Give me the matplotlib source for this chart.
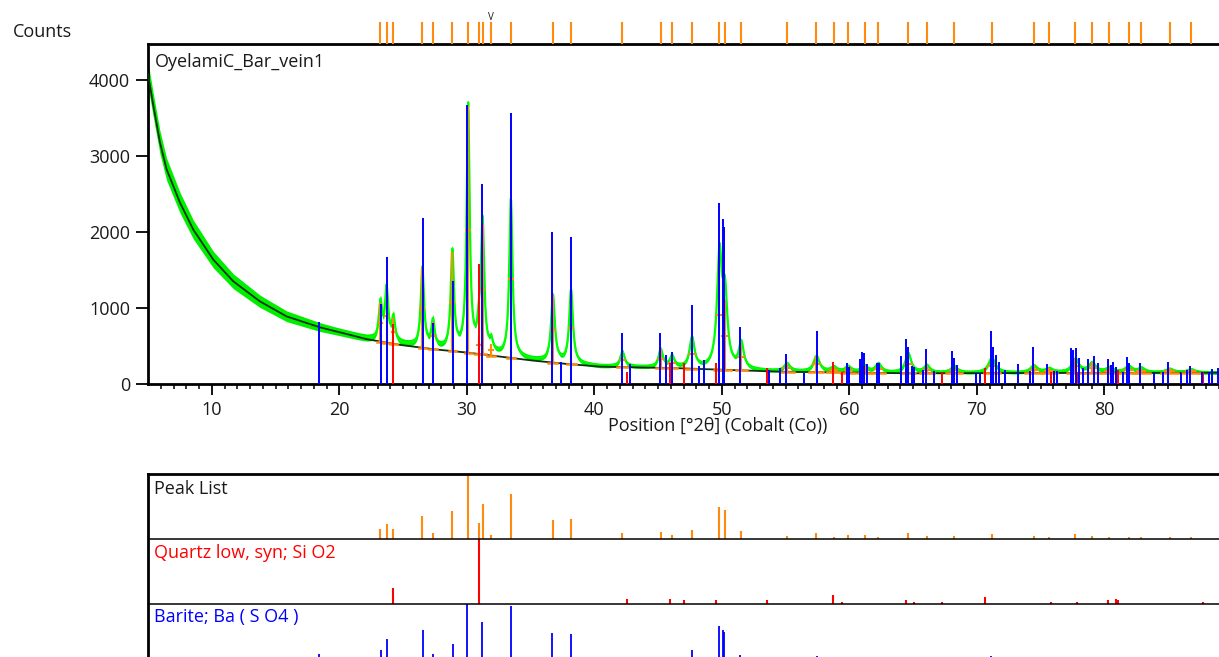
#!/usr/bin/env python3
"""XRD scan OyelamiC_Bar_vein1 with peak list and reference patterns."""
import numpy as np
import matplotlib
matplotlib.use("Agg")
import matplotlib.pyplot as plt

W, H = 1219, 657
plt.rcParams["font.family"] = ["Open Sans", "DejaVu Sans"]
TXT = "#1a1a1a"
ORANGE = "#ff8a10"
GREEN = "#00ee00"

# background (black line): position [deg 2theta], counts
BG_POS = [5.0, 5.2, 5.42, 5.94, 6.46, 7.51, 8.55, 10.12, 11.69, 13.78, 15.88,
          18.5, 20.84, 22.15, 24.76, 27.38, 30.0, 32.6, 35.2, 37.84, 40.45,
          46.7, 54.6, 64.8, 75.0, 95.0]
BG_CNT = [4080, 3880, 3661, 3177, 2825, 2385, 2033, 1637, 1351, 1087, 889,
          745, 647, 590, 515, 458, 414, 361, 308, 264, 229,
          207, 162, 141, 145, 150]

# rough half-width of the noisy measured band
NOISE_POS = [5, 7, 10, 14, 20, 30, 45, 95]
NOISE_CNT = [160, 140, 110, 80, 50, 35, 28, 25]

# peak list: position, height above background, FWHM, relative intensity (%)
PEAK_POS = [23.23, 23.71, 24.25, 26.52, 27.35, 28.87, 30.11, 30.95, 31.24, 31.92,
            33.46, 36.76, 38.18, 42.21, 45.21, 46.10, 47.67, 49.82, 50.25, 51.53,
            55.11, 57.43, 58.78, 59.91, 61.20, 62.28, 64.63, 66.08, 68.22, 71.18,
            74.47, 75.68, 77.73, 79.05, 80.40, 81.91, 82.91, 85.12, 86.79]
PEAK_HGT = [490, 690, 320, 1040, 350, 1290, 3230, 230, 1700, 140,
            2070, 870, 965, 195, 230, 145, 395, 1450, 900, 340,
            100, 205, 60, 70, 80, 115, 255, 95, 85, 195,
            90, 50, 175, 125, 60, 80, 55, 45, 40]
PEAK_FWHM = [0.3, 0.3, 0.3, 0.3, 0.3, 0.3, 0.28, 0.3, 0.3, 0.3,
             0.3, 0.35, 0.35, 0.4, 0.4, 0.4, 0.45, 0.45, 0.45, 0.45,
             0.55, 0.55, 0.55, 0.55, 0.55, 0.55, 0.55, 0.55, 0.6, 0.65,
             0.65, 0.65, 0.65, 0.65, 0.65, 0.65, 0.65, 0.7, 0.7]
PEAK_REL = [16, 24, 16, 35, 9, 44, 100, 25, 55, 7,
            70, 30, 31, 10, 11, 7, 14, 50, 45, 13,
            5, 10, 4, 6, 7, 4, 9, 5, 5, 8,
            5, 4, 8, 5, 4, 4, 4, 4, 3]

# Quartz low, syn: position, stick height in scan (counts), relative intensity (%)
QTZ_POS = [24.25, 30.95, 42.54, 45.96, 47.01, 49.52, 53.53, 58.75, 59.43, 64.49,
           65.06, 67.30, 70.65, 75.80, 77.84, 80.32, 80.91, 81.05, 87.71]
QTZ_CNT = [790, 1581, 162, 280, 272, 281, 207, 290, 162, 215,
           160, 162, 215, 162, 162, 190, 215, 190, 162]
QTZ_REL = [24, 100, 8, 8, 5, 6, 5, 14, 3, 5,
           3, 3, 10, 3, 3, 6, 8, 6, 3]

# Barite: position, stick height in scan (counts)
BAR_POS = [18.44, 23.25, 23.75, 26.54, 27.38, 28.90, 30.05, 31.17, 33.47, 36.69,
           37.37, 38.18, 42.15, 42.80, 45.16, 45.60, 46.10, 47.67, 48.24, 48.61,
           49.76, 50.10, 50.18, 51.46, 53.71, 54.57, 55.04, 56.48, 57.47, 59.80,
           60.01, 60.84, 61.00, 61.18, 61.37, 62.18, 62.36, 64.06, 64.43, 64.64,
           64.90, 65.08, 65.76, 66.00, 66.65, 68.06, 68.22, 68.43, 69.94, 70.25,
           71.09, 71.25, 71.51, 71.72, 72.24, 73.21, 74.18, 74.44, 75.51, 76.06,
           76.27, 77.37, 77.57, 77.76, 78.02, 78.31, 78.75, 79.20, 79.48, 80.32,
           80.51, 80.66, 80.92, 81.49, 81.76, 81.92, 82.80, 83.90, 84.58, 84.97,
           86.00, 86.51, 86.73, 87.69, 88.22, 88.45, 88.90]
BAR_CNT = [815, 1052, 1672, 2187, 801, 1360, 3675, 2627, 3561, 1998,
           295, 1937, 669, 264, 669, 383, 427, 1043, 242, 317,
           2385, 2174, 2068, 744, 185, 207, 392, 150, 691, 272,
           229, 330, 427, 405, 264, 272, 272, 370, 590, 493,
           242, 220, 185, 458, 172, 436, 339, 251, 150, 150,
           700, 493, 383, 295, 185, 264, 172, 493, 264, 172,
           172, 480, 449, 480, 348, 207, 326, 370, 282, 326,
           251, 290, 229, 162, 361, 272, 272, 150, 162, 295,
           141, 185, 238, 154, 162, 194, 215]

X_TICKS = [10, 20, 30, 40, 50, 60, 70, 80]
Y_TICKS = [0, 1000, 2000, 3000, 4000]

X0, PX_PER_DEG = 5.0, 12.75
L, R = 148, 1288  # axes pixel span (runs past the right edge of the image)
XMAX = X0 + (R - L) / PX_PER_DEG


def fx(x):
    return x / W


def fy(y):
    return 1 - y / H


def main():
    fig = plt.figure(figsize=(W / 100, H / 100), dpi=100)

    # ---- main scan ----
    ax = fig.add_axes([fx(L), fy(384), (R - L) / W, 340 / H])
    grid = np.arange(X0, XMAX, 0.005)
    bg = np.interp(grid, BG_POS, BG_CNT)
    prof = bg.copy()
    for p, h, w in zip(PEAK_POS, PEAK_HGT, PEAK_FWHM):
        prof += h / (1 + ((grid - p) / (w / 2)) ** 2)
    band = np.interp(grid, NOISE_POS, NOISE_CNT)
    ax.fill_between(grid, prof - band, prof + band, color=GREEN, lw=0, zorder=1)
    ax.plot(grid, prof, color="#00ff00", lw=1.6, zorder=2)
    ax.plot(BG_POS, BG_CNT, color="#0b300b", lw=1.3, zorder=3)

    pk_bg = np.interp(PEAK_POS, BG_POS, BG_CNT)
    for p, h, w, b in zip(PEAK_POS, PEAK_HGT, PEAK_FWHM, pk_bg):
        ax.plot([p, p], [b, b + h], color=ORANGE, lw=1.5, zorder=4)
        ax.plot([p - w, p + w], [b, b], color=ORANGE, lw=1.8, zorder=4)
        ax.plot([p - w / 2, p + w / 2], [b + h / 2, b + h / 2], color=ORANGE, lw=1.5, zorder=4)

    ax.vlines(QTZ_POS, 0, QTZ_CNT, color="#ff0000", lw=1.4, zorder=5)
    ax.vlines(BAR_POS, 0, BAR_CNT, color="#0000ff", lw=1.4, zorder=6)

    ax.set_xlim(X0, XMAX)
    ax.set_ylim(0, 4474)
    for s in ["left", "top", "bottom"]:
        ax.spines[s].set_linewidth(2.0)
    ax.spines["right"].set_visible(False)
    ax.set_xticks(X_TICKS)
    ax.set_xticks(range(6, 95), minor=True)
    ax.set_yticks(Y_TICKS)
    ax.tick_params(axis="x", which="major", direction="out", length=8, width=1.3,
                   pad=4, labelsize=13, labelcolor=TXT)
    ax.tick_params(axis="x", which="minor", direction="out", length=3.8, width=1.1)
    ax.tick_params(axis="y", direction="out", length=8.5, width=1.3, pad=4.5,
                   labelsize=13, labelcolor=TXT)
    ax.text(fx(154.5), fy(66.8), "OyelamiC_Bar_vein1", transform=fig.transFigure,
            fontsize=13, color=TXT, va="baseline")

    fig.text(fx(12.7), fy(37.3), "Counts", fontsize=13, color=TXT, va="baseline")
    fig.text(fx(718), fy(426), "Position [°2θ] (Cobalt (Co))", fontsize=13,
             color=TXT, ha="center", va="center")

    # ---- peak position marks above the scan ----
    axt = fig.add_axes([fx(L), fy(44), (R - L) / W, 22 / H])
    axt.vlines(PEAK_POS, 0, 1, color=ORANGE, lw=1.5)
    axt.set_xlim(X0, XMAX)
    axt.set_ylim(0, 1)
    axt.axis("off")
    fig.text(fx(L + (31.92 - X0) * PX_PER_DEG), fy(20.5), "V", fontsize=7,
             color=TXT, ha="center", va="baseline")

    # ---- stick panels ----
    axb = fig.add_axes([fx(L), fy(668.3), (R - L) / W, 193.8 / H])
    axb.set_xlim(X0, XMAX)
    axb.set_ylim(0, 3)
    axb.vlines(PEAK_POS, 2, 2 + np.array(PEAK_REL) / 100, color=ORANGE, lw=1.5)
    axb.vlines(QTZ_POS, 1, 1 + np.array(QTZ_REL) / 100, color="#ff0000", lw=1.5)
    axb.vlines(BAR_POS, 0, np.array(BAR_CNT) / max(BAR_CNT), color="#0000ff", lw=1.3)
    axb.axhline(2, color="black", lw=1.1)
    axb.axhline(1, color="black", lw=1.1)
    for s in ["right", "bottom"]:
        axb.spines[s].set_visible(False)
    for s in ["left", "top"]:
        axb.spines[s].set_linewidth(2.0)
    axb.set_xticks([])
    axb.set_yticks([])
    fig.text(fx(154.5), fy(494.4), "Peak List", fontsize=13, color=TXT, va="baseline")
    fig.text(fx(154.5), fy(557.5), "Quartz low, syn; Si O2", fontsize=13,
             color="#ff0000", va="baseline")
    fig.text(fx(154.5), fy(621.8), "Barite; Ba ( S O4 )", fontsize=13,
             color="#0000ff", va="baseline")

    fig.savefig("out.png", dpi=100)


if __name__ == "__main__":
    main()
